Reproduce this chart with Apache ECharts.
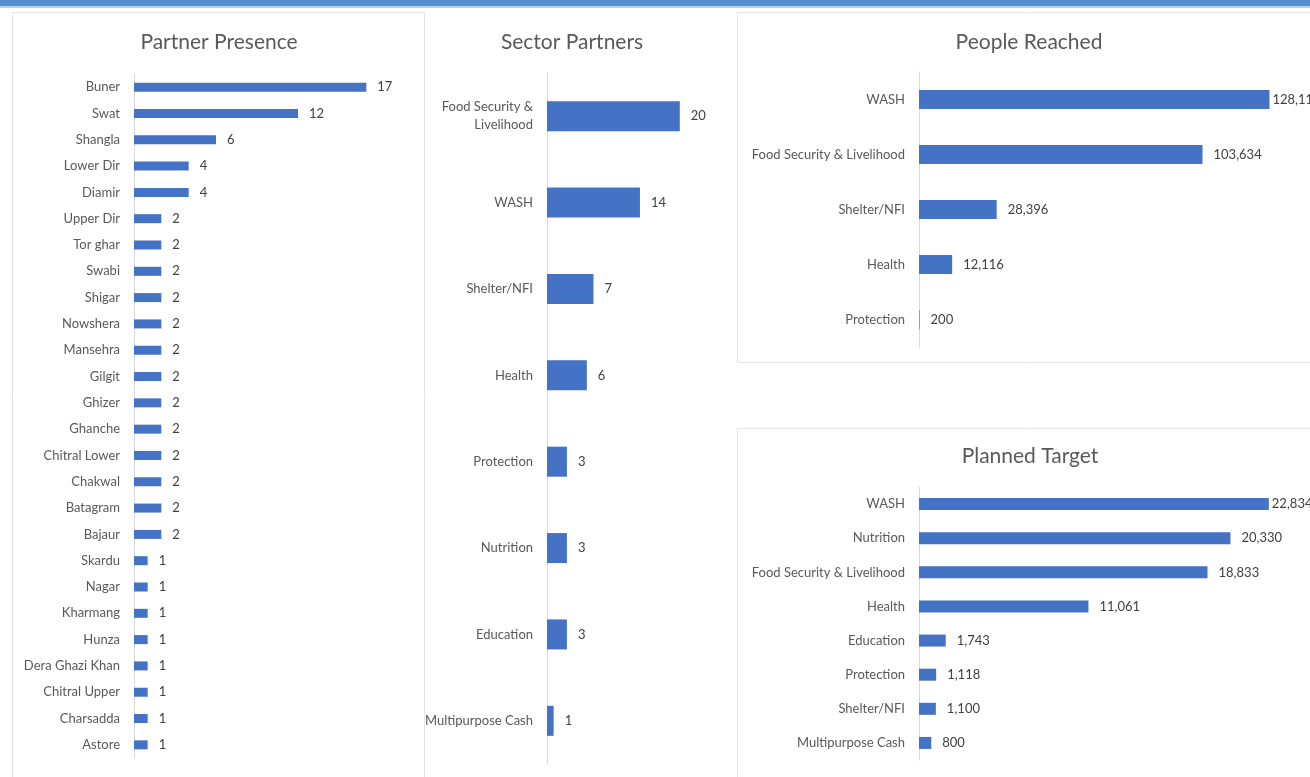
<!DOCTYPE html>
<html>
<head>
<meta charset="utf-8">
<script src="https://cdn.jsdelivr.net/npm/echarts@6/dist/echarts.min.js"></script>
<style>
  html, body { margin: 0; padding: 0; background: #fff; overflow: hidden; }
  #chart { width: 1310px; height: 777px; }
</style>
</head>
<body>
<div id="chart"></div>
<script>
// Partner Presence (districts)
const districts = ['Buner', 'Swat', 'Shangla', 'Lower Dir', 'Diamir', 'Upper Dir', 'Tor ghar', 'Swabi',
  'Shigar', 'Nowshera', 'Mansehra', 'Gilgit', 'Ghizer', 'Ghanche', 'Chitral Lower', 'Chakwal',
  'Batagram', 'Bajaur', 'Skardu', 'Nagar', 'Kharmang', 'Hunza', 'Dera Ghazi Khan', 'Chitral Upper',
  'Charsadda', 'Astore'];
const districtPartners = [17, 12, 6, 4, 4, 2, 2, 2, 2, 2, 2, 2, 2, 2, 2, 2, 2, 2, 1, 1, 1, 1, 1, 1, 1, 1];

// Sector Partners
const sectors = ['Food Security & Livelihood', 'WASH', 'Shelter/NFI', 'Health', 'Protection',
  'Nutrition', 'Education', 'Multipurpose Cash'];
const sectorPartners = [20, 14, 7, 6, 3, 3, 3, 1];

// People Reached
const reachedSectors = ['WASH', 'Food Security & Livelihood', 'Shelter/NFI', 'Health', 'Protection'];
const peopleReached = [128111, 103634, 28396, 12116, 200];

// Planned Target
const targetSectors = ['WASH', 'Nutrition', 'Food Security & Livelihood', 'Health', 'Education',
  'Protection', 'Shelter/NFI', 'Multipurpose Cash'];
const plannedTarget = [22834, 20330, 18833, 11061, 1743, 1118, 1100, 800];

const chart = echarts.init(document.getElementById('chart'));

const FONT = 'Lato';
const BAR = '#4472c4';
const LABEL = '#595959';
const VALUE = '#404040';
const AXIS = '#d9d9d9';
const fmt = v => Number(v).toLocaleString('en-US');

const titleStyle = { fontFamily: FONT, fontSize: 21, fontWeight: 'normal', color: LABEL };

const grids = [
  { left: 134, top: 74, width: 246, height: 684 },
  { left: 547, top: 73, width: 166, height: 691 },
  { left: 919, top: 72, width: 383, height: 275 },
  { left: 919, top: 487, width: 383, height: 273 },
];
const xMax = [18, 25, 140000, 25000];
const cats = [districts, sectors, reachedSectors, targetSectors];
const vals = [districtPartners, sectorPartners, peopleReached, plannedTarget];
const barW = [9, 30, 19, 12];

const option = {
  animation: false,
  textStyle: { fontFamily: FONT },
  title: [
    { text: 'Partner Presence', left: 214, top: 27, textAlign: 'center', textStyle: titleStyle },
    { text: 'Sector Partners', left: 567, top: 27, textAlign: 'center', textStyle: titleStyle },
    { text: 'People Reached', left: 1024, top: 27, textAlign: 'center', textStyle: titleStyle },
    { text: 'Planned Target', left: 1025, top: 441, textAlign: 'center', textStyle: titleStyle },
  ],
  graphic: [
    { type: 'rect', shape: { x: 0, y: 0, width: 1310, height: 6 }, style: { fill: '#4f8fd1' }, z: 10 },
    { type: 'rect', shape: { x: 0, y: 6, width: 1310, height: 2 }, style: { fill: '#b8d2ee' }, z: 10 },
    { type: 'rect', shape: { x: 12.5, y: 12.5, width: 412, height: 800 }, style: { fill: 'none', stroke: '#e4e4e4', lineWidth: 1 } },
    { type: 'rect', shape: { x: 737.5, y: 12.5, width: 620, height: 350 }, style: { fill: 'none', stroke: '#e4e4e4', lineWidth: 1 } },
    { type: 'rect', shape: { x: 737.5, y: 428.5, width: 620, height: 400 }, style: { fill: 'none', stroke: '#e4e4e4', lineWidth: 1 } },
  ],
  grid: grids,
  xAxis: grids.map((g, i) => ({
    type: 'value', gridIndex: i, min: 0, max: xMax[i], show: false,
  })),
  yAxis: grids.map((g, i) => ({
    type: 'category', gridIndex: i, inverse: true, data: cats[i],
    axisLine: { show: true, lineStyle: { color: AXIS, width: 1 } },
    axisTick: { show: false },
    axisLabel: {
      color: LABEL, fontSize: 13, fontFamily: FONT, margin: 14, interval: 0,
      lineHeight: 18,
      formatter: i === 1 ? v => v.replace('& ', '&\n') : v => v,
    },
  })),
  series: grids.map((g, i) => ({
    type: 'bar', xAxisIndex: i, yAxisIndex: i, barWidth: barW[i],
    itemStyle: { color: BAR },
    data: vals[i].map((v, j) => (i >= 2 && j === 0)
      ? { value: v, label: { distance: 3 } }
      : v),
    label: {
      show: true, position: 'right', distance: 11, color: VALUE,
      fontSize: 13, fontFamily: FONT,
      formatter: p => fmt(p.value),
    },
  })),
};

chart.setOption(option);
</script>
</body>
</html>
